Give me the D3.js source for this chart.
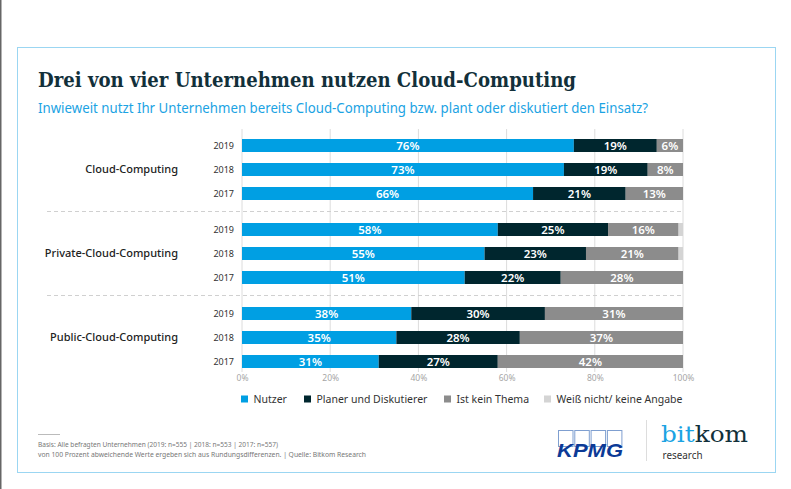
<!DOCTYPE html>
<html><head><meta charset="utf-8">
<script src="https://cdn.jsdelivr.net/npm/d3@7"></script>
<style>body{margin:0;background:#fff}svg{display:block}</style>
</head><body><svg id="c" width="791" height="489"></svg>
<script>
// ---- data ----
const groups = ["Cloud-Computing", "Private-Cloud-Computing", "Public-Cloud-Computing"];
const years = ["2019", "2018", "2017"];
const seriesNames = ["Nutzer", "Planer und Diskutierer", "Ist kein Thema", "Weiß nicht/ keine Angabe"];
const seriesColors = ["#009fe3", "#00262e", "#8c8c8c", "#d4d4d4"];
// order per row: Cloud 2019,2018,2017 | Private 2019,2018,2017 | Public 2019,2018,2017
const nutzer     = [76, 73, 66, 58, 55, 51, 38, 35, 31];
const planer     = [19, 19, 21, 25, 23, 22, 30, 28, 27];
const keinThema  = [6, 8, 13, 16, 21, 28, 31, 37, 42];
const weissNicht = [0, 0, 0, 1, 1, 0, 0, 0, 0];
const xTicks = [0, 0.2, 0.4, 0.6, 0.8, 1];
const titleText = "Drei von vier Unternehmen nutzen Cloud-Computing";
const subtitleText = "Inwieweit nutzt Ihr Unternehmen bereits Cloud-Computing bzw. plant oder diskutiert den Einsatz?";
const note1 = "Basis: Alle befragten Unternehmen (2019: n=555 | 2018: n=553 | 2017: n=557)";
const note2 = "von 100 Prozent abweichende Werte ergeben sich aus Rundungsdifferenzen. | Quelle: Bitkom Research";

const seriesData = [nutzer, planer, keinThema, weissNicht];
const keys = seriesNames;
const rows = [];
groups.forEach((g, gi) => years.forEach((y, yi) => {
  const i = gi * 3 + yi;
  const r = {group: g, year: y};
  keys.forEach((k, ki) => r[k] = seriesData[ki][i]);
  rows.push(r);
}));

const svg = d3.select("#c");
const F = "'Noto Sans', 'Open Sans', sans-serif";

// left edge dark line
svg.append("rect").attr("x", 0).attr("y", 0).attr("width", 1.5).attr("height", 489).attr("fill", "#666");
// frame
svg.append("rect").attr("x", 17.5).attr("y", 47.5).attr("width", 758).attr("height", 425)
  .attr("fill", "none").attr("stroke", "#9bd6f2").attr("stroke-width", 1);

// title
svg.append("text").attr("x", 38).attr("y", 87).text(titleText)
  .attr("font-family", "'DejaVu Serif', serif").attr("font-weight", "bold").attr("font-size", 20.5)
  .attr("fill", "#12303a").attr("textLength", 538).attr("lengthAdjust", "spacingAndGlyphs");
svg.append("text").attr("x", 38).attr("y", 112.5).text(subtitleText)
  .attr("font-family", F).attr("font-size", 14.5).attr("fill", "#1ba3e3")
  .attr("textLength", 610).attr("lengthAdjust", "spacingAndGlyphs");

// scales
const x = d3.scaleLinear().domain([0, 1]).range([242, 683]);
const yG = d3.scaleBand().domain(groups).range([133.5, 373.5]).paddingInner(1 / 7).paddingOuter(0);
const yY = d3.scaleBand().domain(years).range([0, yG.bandwidth()]).paddingInner(11 / 24).paddingOuter(11 / 48);
const yPos = d => yG(d.group) + yY(d.year);

// grid
svg.append("g").selectAll("line").data(xTicks).join("line")
  .attr("x1", d => x(d)).attr("x2", d => x(d)).attr("y1", 129).attr("y2", 372)
  .attr("stroke", "#dcdcdc").attr("stroke-width", 1);

// axis tick labels
const axis = svg.append("g").attr("transform", "translate(0,374)")
  .call(d3.axisBottom(x).tickValues(xTicks).tickFormat(d3.format(".0%")).tickSize(0));
axis.select(".domain").remove();
axis.selectAll("text").attr("font-family", F).attr("font-size", 8.5).attr("fill", "#a6a6a6").attr("dy", "0.5em");

// dashed separators
const seps = groups.slice(1).map(g => yG(g) - yG.step() * yG.paddingInner() / 2);
svg.append("g").selectAll("line").data(seps).join("line")
  .attr("x1", 47).attr("x2", 683).attr("y1", d => d).attr("y2", d => d)
  .attr("stroke", "#d0d0d0").attr("stroke-dasharray", "4,3");

// stack
const stack = d3.stack().keys(keys).offset(d3.stackOffsetExpand);
const stacked = stack(rows);

const layers = svg.append("g").selectAll("g").data(stacked).join("g")
  .attr("fill", (d, i) => seriesColors[i]);
layers.selectAll("rect").data(d => d).join("rect")
  .attr("x", d => x(d[0])).attr("width", d => Math.max(0, x(d[1]) - x(d[0])))
  .attr("y", d => yPos(d.data)).attr("height", yY.bandwidth());

// labels
const labG = svg.append("g");
stacked.forEach((layer, li) => {
  labG.selectAll(null).data(layer.filter(d => d.data[layer.key] >= 3)).join("text")
    .attr("x", d => (x(d[0]) + x(d[1])) / 2).attr("y", d => yPos(d.data) + yY.bandwidth() / 2)
    .attr("dy", "0.36em").attr("text-anchor", "middle")
    .attr("font-family", F).attr("font-size", 11.5).attr("font-weight", 600).attr("fill", "#fff")
    .text(d => d.data[layer.key] + "%");
});

// year labels
svg.append("g").selectAll("text").data(rows).join("text")
  .attr("x", 234).attr("y", d => yPos(d) + yY.bandwidth() / 2).attr("dy", "0.35em")
  .attr("text-anchor", "end").attr("font-family", F).attr("font-size", 9).attr("fill", "#333")
  .text(d => d.year);

// group labels
svg.append("g").selectAll("text").data(groups).join("text")
  .attr("x", 178).attr("y", d => yG(d) + yG.bandwidth() / 2).attr("dy", "0.35em")
  .attr("text-anchor", "end").attr("font-family", F).attr("font-size", 11).attr("font-weight", 500)
  .attr("fill", "#222").text(d => d);

// legend
const legX = [241, 304, 444, 544];
const leg = svg.append("g").selectAll("g").data(seriesNames).join("g")
  .attr("transform", (d, i) => `translate(${legX[i]},399)`);
leg.append("rect").attr("x", 0).attr("y", -3.5).attr("width", 7).attr("height", 7)
  .attr("fill", (d, i) => seriesColors[i]);
leg.append("text").attr("x", 12.5).attr("dy", "0.35em").attr("font-family", F)
  .attr("font-size", 10.5).attr("fill", "#333").text(d => d);

// footnote
svg.append("line").attr("x1", 38).attr("x2", 60).attr("y1", 434.5).attr("y2", 434.5).attr("stroke", "#bbb");
svg.append("text").attr("x", 38).attr("y", 447).text(note1).attr("font-family", F).attr("font-size", 7)
  .attr("fill", "#777").attr("textLength", 240).attr("lengthAdjust", "spacingAndGlyphs");
svg.append("text").attr("x", 38).attr("y", 457).text(note2).attr("font-family", F).attr("font-size", 7)
  .attr("fill", "#777").attr("textLength", 328).attr("lengthAdjust", "spacingAndGlyphs");

// KPMG logo
const kp = svg.append("g");
[0, 1, 2, 3].forEach(i => kp.append("rect").attr("x", 558.5 + i * 16.3).attr("y", 430.5)
  .attr("width", 14.5).attr("height", 16).attr("fill", "none").attr("stroke", "#7f9fd0").attr("stroke-width", 1));
kp.append("text").attr("x", 557).attr("y", 457).text("KPMG").attr("font-family", "'Liberation Sans', Arial, sans-serif")
  .attr("font-weight", "bold").attr("font-style", "italic").attr("font-size", 19).attr("fill", "#0c3a96")
  .attr("textLength", 66).attr("lengthAdjust", "spacingAndGlyphs");
// separator
svg.append("line").attr("x1", 646.5).attr("x2", 646.5).attr("y1", 420).attr("y2", 461).attr("stroke", "#ddd");
// bitkom logo
const bk = svg.append("text").attr("x", 661).attr("y", 441.5).attr("font-family", "'DejaVu Serif', serif")
  .attr("font-size", 23).attr("textLength", 87).attr("lengthAdjust", "spacingAndGlyphs");
bk.append("tspan").attr("fill", "#1ba3e3").text("bit");
bk.append("tspan").attr("fill", "#12303a").text("kom");
svg.append("text").attr("x", 662.5).attr("y", 458.5).text("research").attr("font-family", F)
  .attr("font-size", 11).attr("fill", "#333").attr("textLength", 40).attr("lengthAdjust", "spacingAndGlyphs");
</script></body></html>
